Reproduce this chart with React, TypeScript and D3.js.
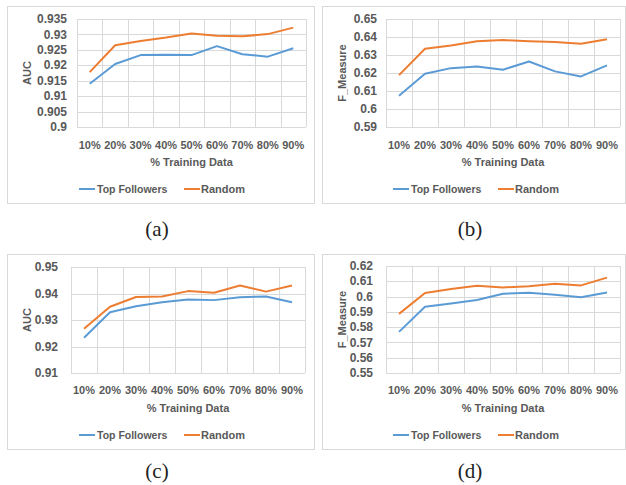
import React from "react";
import * as d3 from "d3";

const categories = ["10%", "20%", "30%", "40%", "50%", "60%", "70%", "80%", "90%"];
const seriesNames = ["Top Followers", "Random"];

const aucA_top = [0.914, 0.9204, 0.9233, 0.9234, 0.9233, 0.9262, 0.9236, 0.9228, 0.9255];
const aucA_rand = [0.9178, 0.9265, 0.9279, 0.929, 0.9303, 0.9296, 0.9294, 0.9301, 0.9322];
const fmB_top = [0.6073, 0.6196, 0.6227, 0.6236, 0.6218, 0.6264, 0.6209, 0.6181, 0.6242];
const fmB_rand = [0.6188, 0.6335, 0.6353, 0.6376, 0.6383, 0.6376, 0.6372, 0.6363, 0.6387];
const aucC_top = [0.9233, 0.9329, 0.9352, 0.9367, 0.9377, 0.9375, 0.9386, 0.9389, 0.9367];
const aucC_rand = [0.9267, 0.935, 0.9387, 0.9389, 0.9409, 0.9403, 0.943, 0.9407, 0.943];
const fmD_top = [0.5769, 0.5933, 0.5955, 0.5977, 0.6019, 0.6025, 0.6012, 0.5995, 0.6027];
const fmD_rand = [0.5887, 0.6023, 0.6049, 0.6071, 0.606, 0.6067, 0.6084, 0.6073, 0.6124];

const ticksA = [0.9, 0.905, 0.91, 0.915, 0.92, 0.925, 0.93, 0.935];
const ticksB = [0.59, 0.6, 0.61, 0.62, 0.63, 0.64, 0.65];
const ticksC = [0.91, 0.92, 0.93, 0.94, 0.95];
const ticksD = [0.55, 0.56, 0.57, 0.58, 0.59, 0.6, 0.61, 0.62];

const captions = ["(a)", "(b)", "(c)", "(d)"];
const yLabels = ["AUC", "F_Measure", "AUC", "F_Measure"];
const xTitle = "% Training Data";

const BLUE = "#5B9BD5";
const ORANGE = "#ED7D31";
const GRID = "#D9D9D9";
const TEXT = "#595959";
const FONT = "'Liberation Sans', Arial, sans-serif";

type PanelProps = {
  box: [number, number, number, number];
  plot: [number, number, number, number];
  ticks: number[];
  top: number[];
  rand: number[];
  ylabel: string;
  ylabelX: number;
  tickRight: number;
  xTickY: number;
  xTitleY: number;
  legendY: number;
  legendX: number;
  caption: string;
  captionY: number;
};

function Panel(p: PanelProps) {
  const [bx0, by0, bx1, by1] = p.box;
  const [px0, py0, px1, py1] = p.plot;
  const x = d3.scaleBand<string>().domain(categories).range([px0, px1]).padding(0);
  const y = d3
    .scaleLinear()
    .domain([p.ticks[0], p.ticks[p.ticks.length - 1]])
    .range([py1, py0]);
  const bw = x.bandwidth();
  const line = d3
    .line<number>()
    .x((_, i) => (x(categories[i]) as number) + bw / 2)
    .y((v) => y(v));
  const boundaries = categories.map((c) => x(c) as number).concat([px1]);
  const fmt = (v: number) => String(+v.toFixed(3));
  const cy = (py0 + py1) / 2;
  const lx = p.legendX;
  return (
    <g>
      <rect x={bx0 + 0.5} y={by0 + 0.5} width={bx1 - bx0 - 1} height={by1 - by0 - 1} fill="#fff" stroke={GRID} strokeWidth={1} />
      {p.ticks.map((t, i) => (
        <line key={"h" + i} x1={px0} x2={px1} y1={Math.round(y(t)) + 0.5} y2={Math.round(y(t)) + 0.5} stroke={GRID} strokeWidth={1} />
      ))}
      {boundaries.map((b, i) => (
        <line key={"v" + i} x1={Math.round(b) + 0.5} x2={Math.round(b) + 0.5} y1={py0} y2={py1} stroke={GRID} strokeWidth={1} />
      ))}
      {p.ticks.map((t, i) => (
        <text key={"t" + i} x={p.tickRight} y={y(t)} dy="0.35em" textAnchor="end" fontSize={12} fontWeight="bold" fill={TEXT} fontFamily={FONT}>
          {fmt(t)}
        </text>
      ))}
      {categories.map((c) => (
        <text key={c} x={(x(c) as number) + bw / 2} y={p.xTickY} dy="0.35em" textAnchor="middle" fontSize={11} fontWeight="bold" fill={TEXT} fontFamily={FONT}>
          {c}
        </text>
      ))}
      <text x={(px0 + px1) / 2} y={p.xTitleY} dy="0.35em" textAnchor="middle" fontSize={11} fontWeight="bold" fill={TEXT} fontFamily={FONT}>
        {xTitle}
      </text>
      <text transform={`translate(${p.ylabelX},${cy}) rotate(-90)`} dy="0.35em" textAnchor="middle" fontSize={11} fontWeight="bold" fill={TEXT} fontFamily={FONT}>
        {p.ylabel}
      </text>
      <path d={line(p.top) as string} fill="none" stroke={BLUE} strokeWidth={2} strokeLinejoin="round" />
      <path d={line(p.rand) as string} fill="none" stroke={ORANGE} strokeWidth={2} strokeLinejoin="round" />
      <line x1={lx} x2={lx + 16} y1={p.legendY} y2={p.legendY} stroke={BLUE} strokeWidth={2} />
      <text x={lx + 18} y={p.legendY} dy="0.35em" fontSize={10.5} fontWeight="bold" fill={TEXT} fontFamily={FONT}>
        {seriesNames[0]}
      </text>
      <line x1={lx + 105} x2={lx + 121} y1={p.legendY} y2={p.legendY} stroke={ORANGE} strokeWidth={2} />
      <text x={lx + 122} y={p.legendY} dy="0.35em" fontSize={11} fontWeight="bold" fill={TEXT} fontFamily={FONT}>
        {seriesNames[1]}
      </text>
      <text x={(bx0 + bx1) / 2 - 4} y={p.captionY} textAnchor="middle" fontSize={21} fill="#222" fontFamily="'Liberation Serif', 'DejaVu Serif', serif">
        {p.caption}
      </text>
    </g>
  );
}

export default function App() {
  return (
    <svg width={626} height={485} style={{ position: "absolute", left: 0, top: 0, background: "#fff" }}>
      <rect x={0} y={0} width={626} height={485} fill="#fff" />
      <Panel box={[7, 6, 315, 204]} plot={[77, 19, 306, 127]} ticks={ticksA} top={aucA_top} rand={aucA_rand}
        ylabel={yLabels[0]} ylabelX={27} tickRight={67} xTickY={145} xTitleY={162} legendY={189} legendX={79}
        caption={captions[0]} captionY={236} />
      <Panel box={[322, 6, 626, 204]} plot={[386, 19, 620, 127]} ticks={ticksB} top={fmB_top} rand={fmB_rand}
        ylabel={yLabels[1]} ylabelX={342} tickRight={377} xTickY={145} xTitleY={162} legendY={189} legendX={393}
        caption={captions[1]} captionY={236} />
      <Panel box={[7, 254, 315, 450]} plot={[71, 267, 305, 373]} ticks={ticksC} top={aucC_top} rand={aucC_rand}
        ylabel={yLabels[2]} ylabelX={27} tickRight={58} xTickY={390} xTitleY={408} legendY={435} legendX={79}
        caption={captions[2]} captionY={478} />
      <Panel box={[322, 254, 626, 450]} plot={[386, 266, 620, 373]} ticks={ticksD} top={fmD_top} rand={fmD_rand}
        ylabel={yLabels[3]} ylabelX={342} tickRight={373} xTickY={390} xTitleY={408} legendY={435} legendX={393}
        caption={captions[3]} captionY={478} />
    </svg>
  );
}
